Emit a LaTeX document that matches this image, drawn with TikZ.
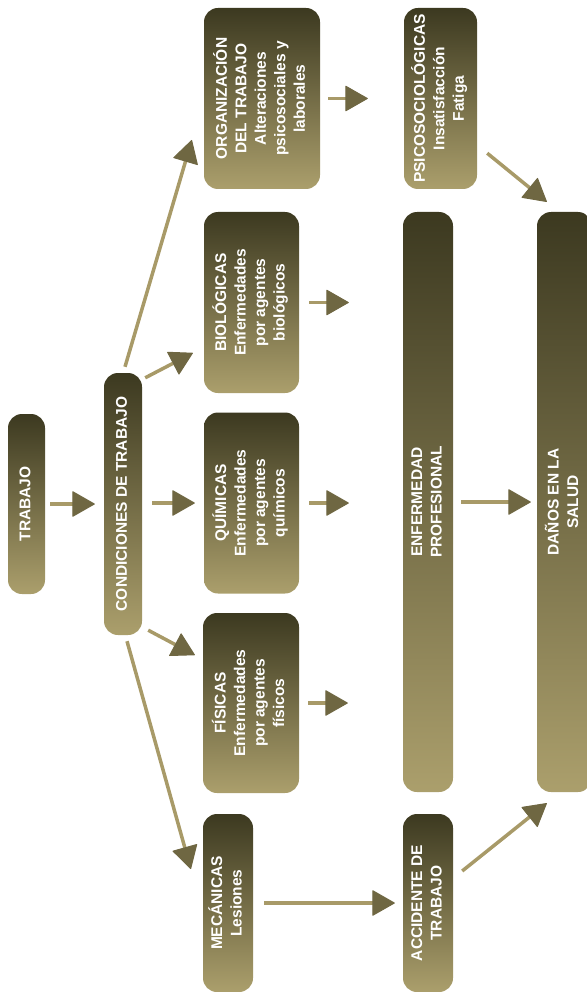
\documentclass[tikz,border=0pt]{standalone}
\usepackage{fontspec}
\setmainfont{Liberation Sans}
\usetikzlibrary{arrows.meta,calc}
\definecolor{oliveDark}{HTML}{3C3920}
\definecolor{oliveLight}{HTML}{AB9F6C}
\definecolor{arrowTan}{HTML}{A89A68}
\definecolor{tipMid}{HTML}{6F6742}
\tikzset{
	caja/.style = {rounded corners=14pt, top color=oliveDark,
		bottom color=oliveLight, text=white, inner sep=0pt, align=center,
		font=\bfseries\fontsize{15.5}{19.5}\selectfont},% caja con degradado
	flecha/.style = {line width=3.5pt, draw=arrowTan,
		-{Triangle[length=23pt,width=26pt,round,line width=1pt,
			fill=tipMid,color=tipMid]}}% flecha gruesa
}
\newcommand{\vtexto}[1]{\rotatebox{90}{\begin{tabular}{@{}c@{}}#1\end{tabular}}}

\begin{document}
\begin{tikzpicture}[x=1pt,y=-1pt]
\useasboundingbox (0,0) rectangle (586,992);
% columna 1 y 2
\node [caja, minimum width=37pt, minimum height=180pt] (trabajo) at (26.5,504)
	{\vtexto{TRABAJO}};
\node [caja, minimum width=38pt, minimum height=262pt] (cond) at (123,504)
	{\vtexto{CONDICIONES DE TRABAJO}};
% columna 3
\node [caja, minimum width=116pt, minimum height=181pt] (org) at (262,98.5)
	{\vtexto{ORGANIZACIÓN\\DEL TRABAJO\\Alteraciones\\psicosociales y\\laborales}};
\node [caja, minimum width=95pt, minimum height=181pt] (bio) at (251.5,302.5)
	{\vtexto{BIOLÓGICAS\\Enfermedades\\por agentes\\biológicos}};
\node [caja, minimum width=95pt, minimum height=181pt] (quim) at (251.5,503)
	{\vtexto{QUÍMICAS\\Enfermedades\\por agentes\\químicos}};
\node [caja, minimum width=96pt, minimum height=180pt] (fis) at (251,703)
	{\vtexto{FÍSICAS\\Enfermedades\\por agentes\\físicos}};
\node [caja, minimum width=50pt, minimum height=178pt] (mec) at (228,903)
	{\vtexto{MECÁNICAS\\Lesiones}};
% columna 4
\node [caja, minimum width=73pt, minimum height=181pt] (psico) at (440.5,98.5)
	{\vtexto{PSICOSOCIOLÓGICAS\\Insatisfacción\\Fatiga}};
\node [caja, minimum width=50pt, minimum height=580pt] (enf) at (428,502)
	{\vtexto{ENFERMEDAD\\PROFESIONAL}};
\node [caja, minimum width=50pt, minimum height=178pt] (acc) at (428,903)
	{\vtexto{ACCIDENTE DE\\TRABAJO}};
% columna 5
\node [caja, minimum width=55pt, minimum height=580pt] (danos) at (564.5,502)
	{\vtexto{DAÑOS EN LA\\SALUD}};

% flechas
\draw [flecha, shorten <=5pt, shorten >=9pt] (trabajo) -- (cond);
\draw [flecha] ([xshift=2pt,yshift=6pt]cond.north) -- ([xshift=-12pt,yshift=-41.5pt]org.west);
\draw [flecha] ([xshift=3pt,yshift=-5pt]cond.north east) -- ([xshift=-11pt,yshift=-50.5pt]bio.west);
\draw [flecha, shorten <=10pt, shorten >=9pt] (cond.east |- quim) -- (quim);
\draw [flecha] ([xshift=6pt,yshift=5pt]cond.south east) -- ([xshift=-8pt,yshift=48pt]fis.west);
\draw [flecha] ([xshift=4pt,yshift=-6pt]cond.south) -- ([xshift=-12pt,yshift=34pt]mec.west);
\draw [flecha, shorten <=8pt, shorten >=36pt] (org) -- (psico);
\draw [flecha, shorten <=10pt, shorten >=54pt] (bio) -- (bio -| enf.west);
\draw [flecha, shorten <=10pt, shorten >=54pt] (quim) -- (quim -| enf.west);
\draw [flecha, shorten <=9pt, shorten >=55pt] (fis) -- (fis -| enf.west);
\draw [flecha, shorten <=11pt, shorten >=8pt] (mec) -- (acc);
\draw [flecha, shorten <=8pt, shorten >=6pt] (enf) -- (danos);
\draw [flecha] ([xshift=10pt,yshift=36pt]psico.south east) -- ([xshift=10pt,yshift=10pt]danos.north west);
\draw [flecha] ([xshift=9pt,yshift=32pt]acc.east) -- ([xshift=10pt,yshift=-11pt]danos.south west);
\end{tikzpicture}
\end{document}
